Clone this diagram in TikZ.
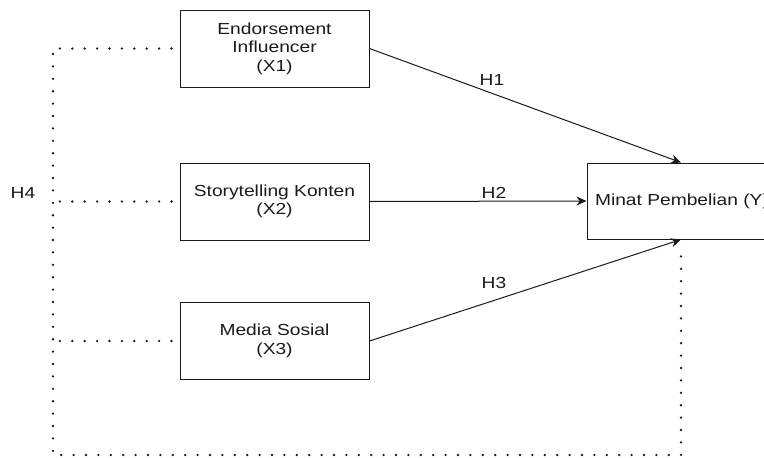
\documentclass[tikz,border=0pt]{standalone}
\usepackage{fontspec}
\setmainfont[FakeStretch=1.2]{Liberation Sans}
\usetikzlibrary{arrows.meta}
\definecolor{ink}{HTML}{1A1A1A}
\begin{document}
\begin{tikzpicture}[x=1pt,y=-1pt,
  font=\fontsize{16}{18.5}\selectfont,
  box/.style={draw=ink, line width=1pt, minimum width=189pt, minimum height=77pt, inner sep=0pt, align=center, text=ink},
  arr/.style={draw=ink, line width=1pt, -{Stealth[length=10pt,width=9pt]}},
  dots/.style={draw=ink, line width=2.6pt, line cap=round, dash pattern=on 0pt off 12.4pt},
  lbl/.style={text=ink, inner sep=0pt}]
\useasboundingbox (0,0) rectangle (764,458);
\clip (0,0) rectangle (764,458);
\node[box] (x1) at (274.5,48.5) {Endorsement\\Influencer\\(X1)};
\node[box] (x2) at (274.5,201.5) {Storytelling Konten\\(X2)};
\node[box] (x3) at (274.5,341) {Media Sosial\\(X3)};
\node[box, minimum width=190pt, minimum height=76pt] (y) at (682,201) {Minat Pembelian (Y)};
\draw[arr] (x1.east) -- ([xshift=-1pt]y.north);
\draw[arr] (x2.east) -- (y.west);
\draw[arr] (x3.east) -- ([xshift=-1pt]y.south);
\node[lbl] (h1) at (492,80) {H1};
\node[lbl] (h2) at (494,193) {H2};
\node[lbl] (h3) at (494,283) {H3};
\node[lbl] (h4) at (23,193) {H4};
\coordinate (L) at (53,0);
\coordinate (B) at (0,455);
\draw[dots] ([xshift=-8pt]x1.west) -- (x1.west -| L) -- (L |- B) -- ([xshift=-1pt]y.south |- B) -- ([xshift=-1pt,yshift=-10pt]y.south);
\draw[dots] ([xshift=-8pt]x2.west) -- (x2.west -| L);
\draw[dots] ([xshift=-8pt]x3.west) -- (x3.west -| L);
\end{tikzpicture}
\end{document}
